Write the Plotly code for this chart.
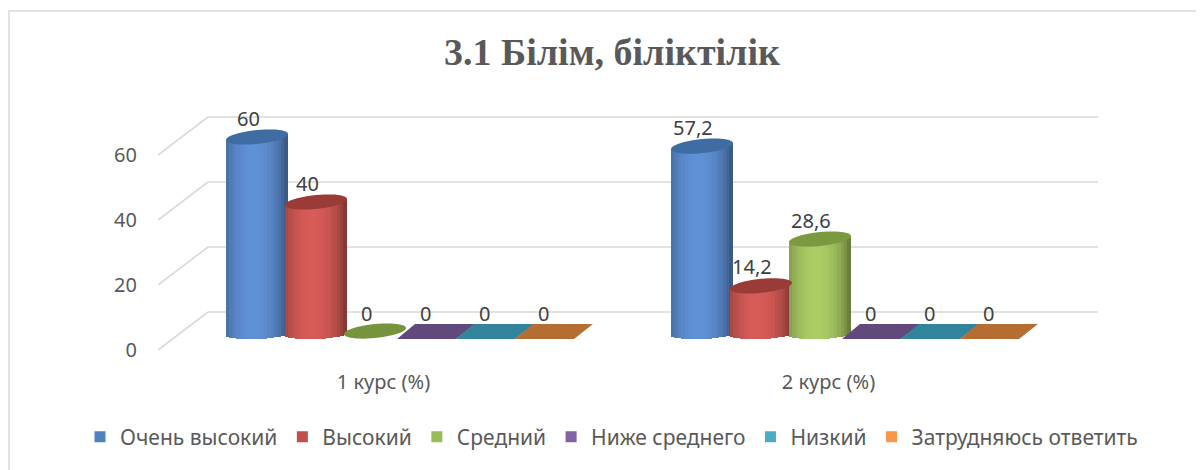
import math
import plotly.graph_objects as go

# ---------------- data ----------------
categories = ["1 курс (%)", "2 курс (%)"]
series_names = ["Очень высокий", "Высокий", "Средний", "Ниже среднего", "Низкий", "Затрудняюсь ответить"]
values_very_high = [60, 57.2]
values_high = [40, 14.2]
values_medium = [0, 28.6]
values_below_medium = [0, 0]
values_low = [0, 0]
values_undecided = [0, 0]
series_values = [values_very_high, values_high, values_medium,
                 values_below_medium, values_low, values_undecided]
y_ticks = [0, 20, 40, 60]
title_text = "3.1 Білім, біліктілік"

# ---------------- styling ----------------
legend_colors = ["#4f81bd", "#c0504d", "#9bbb59", "#8064a2", "#4bacc6", "#f79646"]
body_light = [(96, 146, 216), (216, 92, 88), (172, 206, 102), (128, 100, 162), (75, 172, 198), (247, 150, 70)]
top_colors = ["#3f6ca3", "#9a3b38", "#7b9a3f", "#604a7b", "#31849b", "#b66d31"]
flat_colors = ["#3f6ca3", "#9a3b38", "#77933c", "#604a7b", "#31849b", "#b66d31"]
TEXT = "#595959"
LABEL = "#404040"
GRID = "#d9d9d9"
FONT = "Noto Sans"

OFF = 8                      # page offset of the figure (body margin)
PAGE_W, PAGE_H = 1204, 470
W, H = PAGE_W - OFF, PAGE_H - OFF
PLOT_L, PLOT_R, PLOT_T, PLOT_B = 158, 1098, 100, 360   # page pixels
ML, MR, MT, MB = PLOT_L - OFF, PAGE_W - PLOT_R, PLOT_T - OFF, PAGE_H - PLOT_B
pw, ph = PLOT_R - PLOT_L, PLOT_B - PLOT_T

PX_X = 445.0          # pixels per category
PX_Y = 3.25           # pixels per value unit
X0 = -(404.5 - PLOT_L) / PX_X
X1 = X0 + pw / PX_X
Y1 = (332 - PLOT_T) / PX_Y
Y0 = Y1 - ph / PX_Y

SER_STEP = 59 / PX_X
BAR_W = 62 / PX_X
N_STRIPS = 18
TILT = 3 / PX_Y
TOP_B = 7 / PX_Y
DEPTH_DX = 50 / PX_X
DEPTH_UP = 20 / PX_Y
FRONT_DOWN = 18 / PX_Y

n_ser = len(series_names)


def center(ci, si):
    return ci + (si - (n_ser - 1) / 2) * SER_STEP


def shade(rgb, u):
    t = max(0.0, 1 - ((u + 0.12) / 1.12) ** 2)
    f = 0.55 + 0.45 * t ** 0.8
    return "rgb(%d,%d,%d)" % tuple(int(c * f) for c in rgb)


def ellipse_path(cx, cy):
    pts = []
    for k in range(48):
        th = 2 * math.pi * k / 48
        x = cx + BAR_W / 2 * math.cos(th)
        y = cy + TOP_B * math.sin(th) + TILT * math.cos(th)
        pts.append("%.5f,%.5f" % (x, y))
    return "M " + " L ".join(pts) + " Z"


fig = go.Figure()
shapes = []
annotations = []

# back-wall grid with perspective
for v in y_ticks:
    shapes.append(dict(type="line", xref="x", yref="y", x0=X0 + DEPTH_DX, x1=X1,
                       y0=v + DEPTH_UP, y1=v + DEPTH_UP, line=dict(color=GRID, width=1.6), layer="below"))
    shapes.append(dict(type="line", xref="x", yref="y", x0=X0, x1=X0 + DEPTH_DX,
                       y0=v - FRONT_DOWN, y1=v + DEPTH_UP, line=dict(color=GRID, width=1.6), layer="below"))

# cylinders
for si, vals in enumerate(series_values):
    all_zero = all(v == 0 for v in vals)
    for j in range(N_STRIPS):
        u = -1 + (2 * j + 1) / N_STRIPS
        xs, ys, bases = [], [], []
        for ci, v in enumerate(vals):
            if v == 0:
                continue
            base = -0.6 + 0.3 * u - 1.6 * math.sqrt(max(0.0, 1 - u * u))
            top = v + TILT * u
            xs.append(center(ci, si) + u * BAR_W / 2)
            ys.append(top - base)
            bases.append(base)
        if xs:
            fig.add_trace(go.Bar(x=xs, y=ys, base=bases, width=BAR_W / N_STRIPS * 1.08,
                                 marker=dict(color=shade(body_light[si], u), line=dict(width=0)),
                                 showlegend=False, hoverinfo="skip"))
    for ci, v in enumerate(vals):
        cx = center(ci, si)
        if v > 0:
            shapes.append(dict(type="path", xref="x", yref="y", path=ellipse_path(cx, v),
                               fillcolor=top_colors[si], line=dict(width=0), layer="above"))
        elif not all_zero:
            shapes.append(dict(type="path", xref="x", yref="y", path=ellipse_path(cx, 0.3),
                               fillcolor=flat_colors[si], line=dict(width=0), layer="above"))
        else:
            yb, yt = -7 / PX_Y, 8 / PX_Y
            p = "M %.5f,%.5f L %.5f,%.5f L %.5f,%.5f L %.5f,%.5f Z" % (
                cx - 37 / PX_X, yb, cx + 22 / PX_X, yb, cx + 41 / PX_X, yt, cx - 19 / PX_X, yt)
            shapes.append(dict(type="path", xref="x", yref="y", path=p,
                               fillcolor=flat_colors[si], line=dict(width=0), layer="above"))
        annotations.append(dict(x=cx, y=v, xref="x", yref="y", text=("%g" % v).replace(".", ","),
                                showarrow=False, xanchor="center", yanchor="middle",
                                xshift=-9, yshift=19, font=dict(family=FONT, size=20, color=LABEL)))

# legend entries
for si, name in enumerate(series_names):
    fig.add_trace(go.Scatter(x=[None], y=[None], mode="markers", name=name,
                             marker=dict(symbol="square", size=11, color=legend_colors[si])))

# chart border (chart-area frame, partly outside the picture)
shapes.append(dict(type="rect", xref="paper", yref="paper",
                   x0=(9 - PLOT_L) / pw, x1=(PAGE_W + 10 - PLOT_L) / pw,
                   y0=(PLOT_B - PAGE_H - 10) / ph, y1=(PLOT_B - 11) / ph,
                   line=dict(color=GRID, width=1.5), fillcolor="rgba(0,0,0,0)", layer="below"))

fig.update_layout(
    width=W, height=H,
    margin=dict(l=ML, r=MR, t=MT, b=MB, autoexpand=False),
    paper_bgcolor="white", plot_bgcolor="white",
    barmode="overlay", bargap=0,
    title=dict(text="<b>%s</b>" % title_text, x=(612 - OFF) / W, xanchor="center",
               y=1 - (52 - OFF) / H, yanchor="middle",
               font=dict(family="Liberation Serif", size=38, color=TEXT)),
    xaxis=dict(range=[X0, X1], showgrid=False, zeroline=False, showline=False,
               tickvals=[ci - 21 / PX_X for ci in range(len(categories))], ticktext=categories,
               ticks="", ticklabelstandoff=8, tickfont=dict(family=FONT, size=20, color=TEXT),
               fixedrange=True, automargin=False),
    yaxis=dict(range=[Y0, Y1], showgrid=False, zeroline=False, showline=False,
               tickvals=[v - FRONT_DOWN for v in y_ticks], ticktext=[str(v) for v in y_ticks],
               ticks="", ticklabelstandoff=20, tickfont=dict(family=FONT, size=20, color=TEXT),
               fixedrange=True, automargin=False),
    legend=dict(orientation="h", x=(80 - PLOT_L) / pw, xanchor="left",
                y=(PLOT_B - 437) / ph, yanchor="middle",
                font=dict(family=FONT, size=21, color=TEXT), itemwidth=30,
                bgcolor="rgba(0,0,0,0)"),
    shapes=shapes,
    annotations=annotations,
    showlegend=True,
)

fig.write_html("out.html")
